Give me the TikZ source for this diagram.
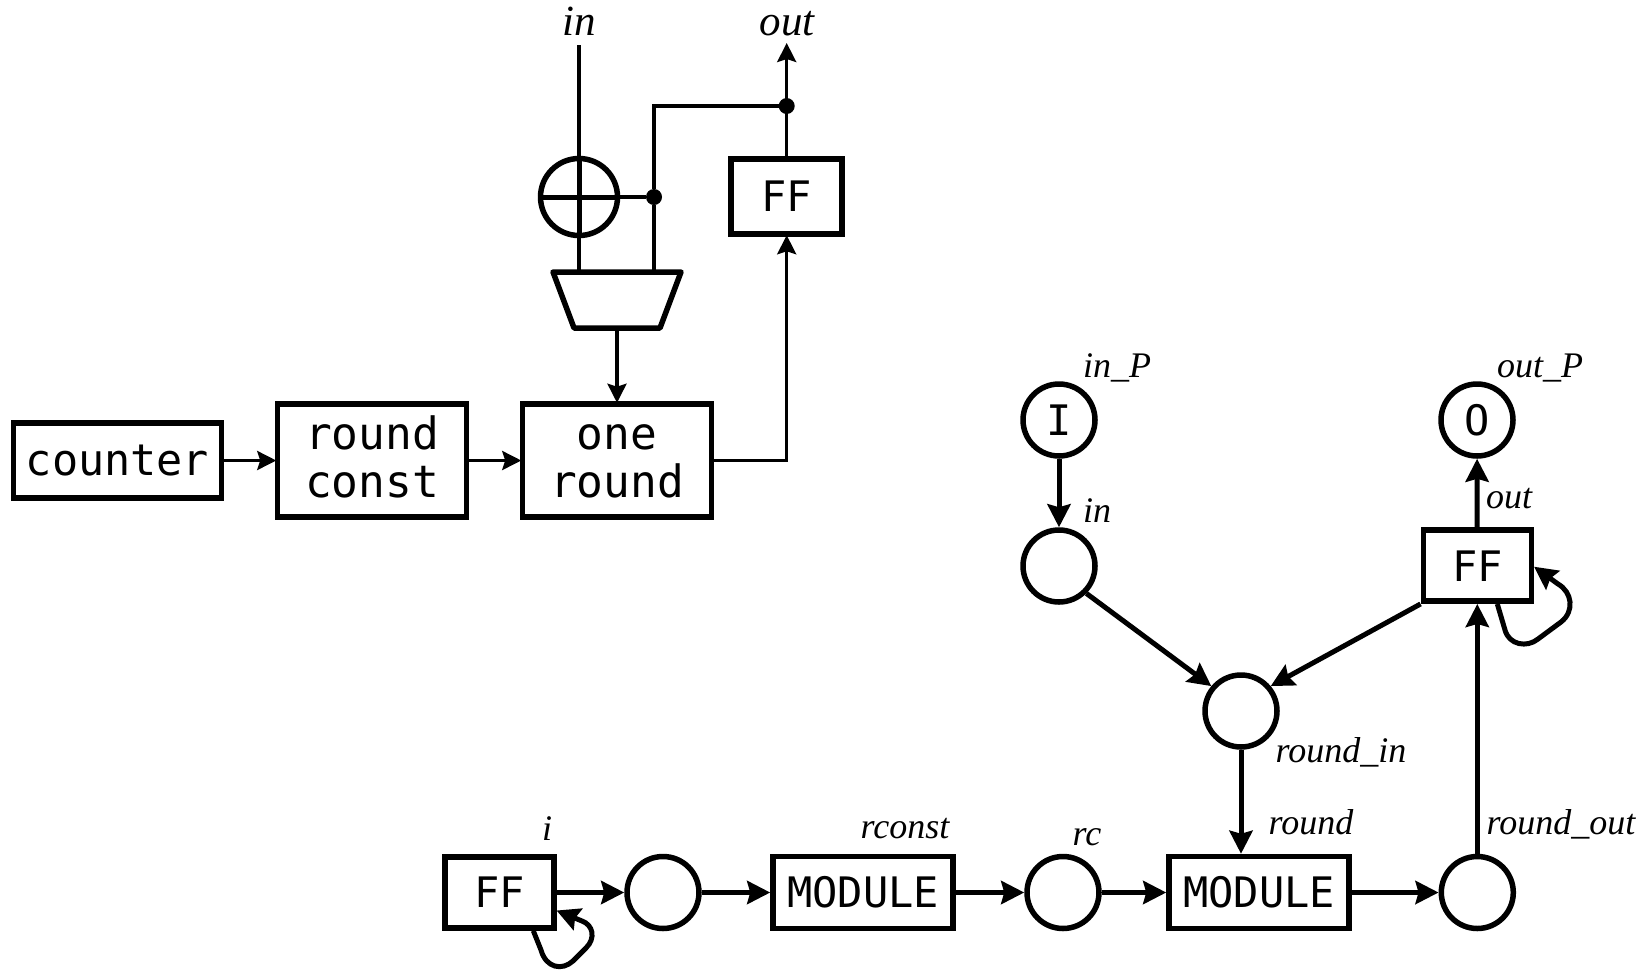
\documentclass[tikz,border=0pt]{standalone}
\usepackage{fontspec}
\setmainfont{Liberation Serif}
\setmonofont{DejaVu Sans Mono}
\usetikzlibrary{arrows.meta,calc}
\newcommand{\rowtext}[1]{\strut\raisebox{-3.2pt}{#1}}
\tikzset{
  x=1pt,y=-1pt,
  tiny arrow/.style={-{Stealth[length=19pt,width=19pt,inset=3pt]},line width=3.2pt,shorten >=-1.5pt},
  big arrow/.style={-{Stealth[length=23pt,width=23pt,inset=3pt]},line width=5pt},
  thinline/.style={line width=3.2pt},
  boxA/.style={draw,line width=5.5pt,rectangle,inner sep=0pt,font=\fontsize{44.5}{48}\selectfont\ttfamily,align=center},
  boxB/.style={boxA,font=\fontsize{42}{46}\selectfont\ttfamily},
  boxC/.style={boxA,font=\fontsize{42}{46}\selectfont\ttfamily},
  circ/.style={draw,line width=5.5pt,circle,inner sep=0pt,minimum size=72pt,font=\fontsize{42}{46}\selectfont\ttfamily},
  dotn/.style={fill=black,circle,inner sep=0pt,minimum size=16pt},
  biglab/.style={font=\fontsize{43}{46}\selectfont\itshape,inner sep=0pt,anchor=base},
  lab/.style={font=\fontsize{36}{38}\selectfont\itshape,inner sep=0pt,anchor=base},
}
\begin{document}
\begin{tikzpicture}
\useasboundingbox (0,0) rectangle (1652,970);
% top diagram
\node[boxA,font=\fontsize{43.5}{48}\selectfont\ttfamily,minimum width=208pt,minimum height=75pt] (counter) at (117.5,460.5) {\raisebox{-4pt}{counter}};
\node[boxA,minimum width=189pt,minimum height=113pt] (rconstbox) at (372,460.5) {\rowtext{round}\\\rowtext{const}};
\node[boxA,minimum width=189pt,minimum height=113pt] (oneround) at (617,460.5) {\rowtext{one}\\\rowtext{round}};
\node[boxB,minimum width=111pt,minimum height=75pt] (fftop) at (786.7,196.5) {FF};
\node[draw,line width=5.5pt,circle,inner sep=0pt,minimum size=77pt] (xor) at (579,197) {};
\draw[line width=5pt] (xor.west) -- (xor.east);
\draw[line width=5pt] (xor.north) -- (xor.south);
\node[dotn] (d1) at (654,197) {};
\node[dotn] (d2) at (786.7,106) {};
\coordinate (muxA) at (553,272);
\coordinate (muxB) at (681,272);
\coordinate (muxC) at (660,328);
\coordinate (muxD) at (574,328);
\coordinate (muxin1) at (579,272);
\coordinate (muxin2) at (654,272);
\coordinate (muxout) at (617,328);
\draw[line width=5.5pt,line join=round] (muxA) -- (muxB) -- (muxC) -- (muxD) -- cycle;
\node[biglab] (lin) at (579,35) {in};
\node[biglab] (lout) at (787,35) {out};
\coordinate (instart) at (579,45);
\coordinate (outend) at (786.7,44.5);
\draw[thinline] (instart) -- (xor.north);
\draw[thinline] (xor.south) -- (muxin1);
\draw[thinline] (xor.east) -- (d1);
\draw[thinline] (muxin2) -- (d1) -- (654,106) -- (d2);
\draw[tiny arrow] (fftop.north) -- (outend);
\draw[tiny arrow] (muxout) -- (oneround.north);
\draw[tiny arrow] (counter) -- (rconstbox);
\draw[tiny arrow] (rconstbox) -- (oneround);
\draw[tiny arrow] (oneround.east) -| (fftop.south);
% bottom diagram
\node[circ] (I) at (1059,420) {I};
\node[circ] (O) at (1477,420) {O};
\node[circ] (cin) at (1059,566) {};
\node[boxB,minimum width=108pt,minimum height=71pt] (ffout) at (1477.3,565.7) {FF};
\node[circ] (crin) at (1241,711) {};
\node[boxB,minimum width=109pt,minimum height=71pt] (ffi) at (499.3,892.5) {FF};
\node[circ] (ci) at (663,892.5) {};
\node[boxC,minimum width=180pt,minimum height=72pt] (m1) at (863,892.5) {MODULE};
\node[circ] (crc) at (1063,892.5) {};
\node[boxC,minimum width=180pt,minimum height=72pt] (m2) at (1259,892.5) {MODULE};
\node[circ] (cro) at (1477.3,892.5) {};
\draw[big arrow] (I) -- (cin);
\draw[big arrow] (cin.-45) -- (crin.140);
\draw[big arrow] (ffout.south west) -- (crin.40);
\draw[big arrow] (ffout) -- (O);
\draw[big arrow] (crin) -- (crin |- m2.north);
\draw[big arrow] (cro) -- (ffout);
\draw[big arrow] (ffi) -- (ci);
\draw[big arrow] (ci) -- (m1);
\draw[big arrow] (m1) -- (crc);
\draw[big arrow] (crc) -- (m2);
\draw[big arrow] (m2) -- (cro);
\draw[big arrow] ([xshift=20pt]ffout.south) -- (1505,630) .. controls (1509,645) and (1527,648) .. (1538,639) -- (1561,622) .. controls (1575,611) and (1572,592) .. (1558,584) -- ([yshift=-1pt]ffout.east);
\draw[big arrow] ([xshift=34pt]ffi.south) -- (541,950) .. controls (546,968) and (562,971) .. (573,961) -- (586,948) .. controls (596,938) and (593,925) .. (582,921) -- ([yshift=-18pt]ffi.east);
\node[lab] at (1117,377) {in\_P};
\node[lab] at (1540,377) {out\_P};
\node[lab] at (1097,522) {in};
\node[lab] at (1509,508) {out};
\node[lab] at (1341,762) {round\_in};
\node[lab] at (1311,834) {round};
\node[lab] at (1561,834) {round\_out};
\node[lab] at (905,838) {rconst};
\node[lab] at (1087,845) {rc};
\node[lab] at (547,840) {i};
\end{tikzpicture}
\end{document}
